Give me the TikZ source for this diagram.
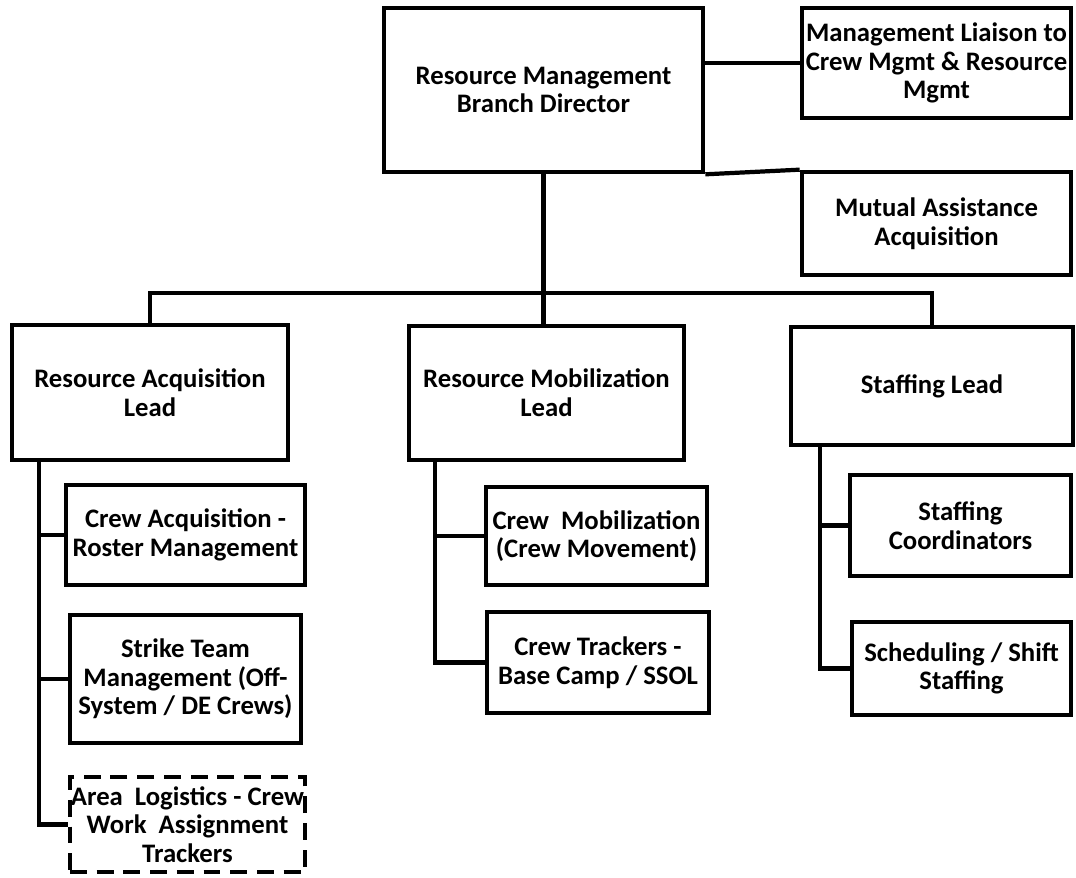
\documentclass[tikz,border=0pt]{standalone}
\usepackage{fontspec}
\setmainfont{Carlito}
\begin{document}
\begin{tikzpicture}[x=0.025cm,y=-0.025cm,
    every node/.style={font=\fontsize{19}{20.4}\selectfont\bfseries,align=center},
    box/.style={draw,line width=3.3pt,inner sep=0pt},
    sz/.style 2 args={minimum width=#1*0.025cm,minimum height=#2*0.025cm},
    tbd/.style={box,dash pattern=on 12pt off 7pt},
    link/.style={line width=3pt}]
  \useasboundingbox (0,0) rectangle (1076,878);
  \node[box,sz={319}{164}] (dir) at (543.5,90) {Resource Management\\Branch Director};
  \node[box,sz={269}{110}] (liaison) at (936.5,63) {Management Liaison to\\Crew Mgmt \& Resource\\Mgmt};
  \node[box,sz={269}{103}] (mutual) at (936.5,223.5) {Mutual Assistance\\Acquisition};
  \node[box,sz={276}{135}] (acq) at (150,392.5) {Resource Acquisition\\Lead};
  \node[box,sz={275}{134}] (mob) at (546.5,393) {Resource Mobilization\\Lead};
  \node[box,sz={282}{118}] (staff) at (932,386) {Staffing Lead};
  \node[box,sz={239}{100}] (crewacq) at (185.5,535) {Crew Acquisition -\\Roster Management};
  \node[box,sz={231}{128}] (strike) at (185.5,679) {Strike Team\\Management (Off-\\System / DE Crews)};
  \node[tbd,sz={235}{95}] (area) at (187.5,824.5) {Area~~Logistics - Crew\\Work~~Assignment\\Trackers};
  \node[box,sz={221}{98}] (crewmob) at (596.5,536) {Crew~~Mobilization\\(Crew Movement)};
  \node[box,sz={222}{101}] (trackers) at (598,662.5) {Crew Trackers -\\Base Camp / SSOL};
  \node[box,sz={221}{101}] (coord) at (960.5,525.5) {Staffing\\Coordinators};
  \node[box,sz={219}{93}] (sched) at (961.5,668.5) {Scheduling / Shift\\Staffing};

  \coordinate (bus) at (543.5,293);
  \coordinate (acqrail) at (39,462);
  \coordinate (mobrail) at (435,462);
  \coordinate (staffrail) at (820,447);

  \draw[link] (dir.east |- liaison.west) -- (liaison.west);
  \draw[link] (dir.south east) -- (mutual.north west);
  \draw[link] (dir.south) -- (dir.south |- mob.north);
  \draw[link] (acq.north) |- (bus) -| (staff.north);

  \draw[link] (acqrail) |- (area.west);
  \foreach \k in {crewacq,strike}
    \draw[link] (acqrail |- \k.west) -- (\k.west);
  \draw[link] (mobrail) |- (trackers.west);
  \draw[link] (mobrail |- crewmob.west) -- (crewmob.west);
  \draw[link] (staffrail) |- (sched.west);
  \draw[link] (staffrail |- coord.west) -- (coord.west);
\end{tikzpicture}
\end{document}
